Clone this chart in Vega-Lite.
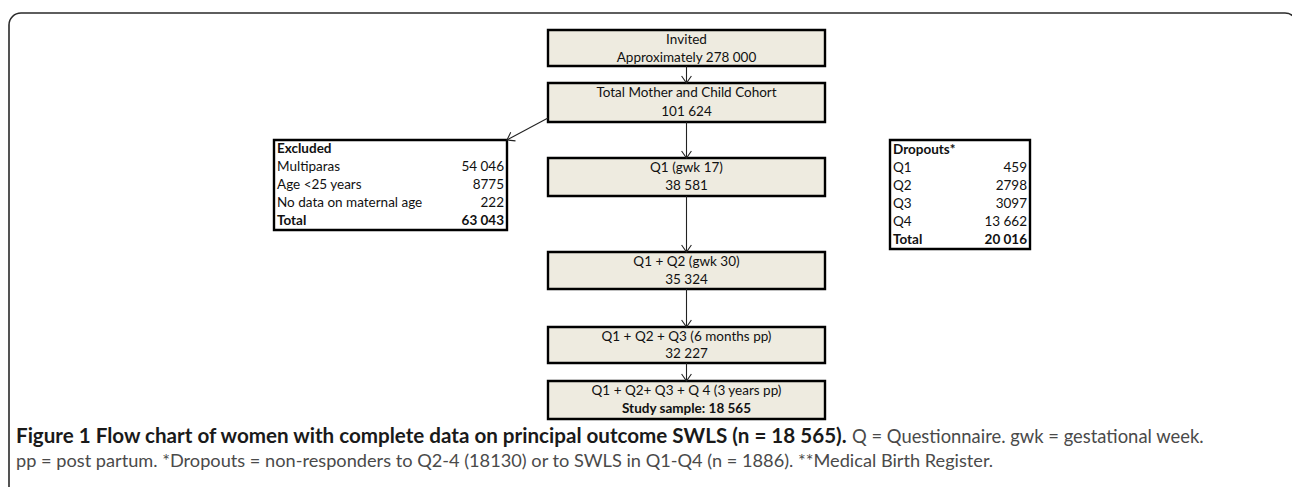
{
  "$schema": "https://vega.github.io/schema/vega-lite/v6.json",
  "width": 1292,
  "height": 487,
  "autosize": {"type": "fit", "contains": "padding"},
  "padding": 0,
  "background": "white",
  "config": {"view": {"stroke": null}},
  "datasets": {
    "frame": [{"x1": 9, "x2": 1297, "y1": 13, "y2": 530}],
    "boxes": [
      {"name": "Invited", "x1": 548, "x2": 825, "y1": 30, "y2": 66},
      {"name": "Cohort", "x1": 548, "x2": 825, "y1": 83, "y2": 122},
      {"name": "Q1", "x1": 548, "x2": 825, "y1": 158, "y2": 196},
      {"name": "Q1Q2", "x1": 548, "x2": 825, "y1": 252, "y2": 289},
      {"name": "Q1Q2Q3", "x1": 548, "x2": 825, "y1": 327, "y2": 363},
      {"name": "Q1Q2Q3Q4", "x1": 548, "x2": 825, "y1": 381, "y2": 419}
    ],
    "tables": [
      {"name": "Excluded", "x1": 274, "x2": 507, "y1": 140, "y2": 230},
      {"name": "Dropouts", "x1": 890, "x2": 1030, "y1": 140, "y2": 249}
    ],
    "arrows": [
      {"x1": 686.5, "y1": 66, "x2": 686.5, "y2": 83, "angle": 0},
      {"x1": 686.5, "y1": 122, "x2": 686.5, "y2": 158, "angle": 0},
      {"x1": 686.5, "y1": 196, "x2": 686.5, "y2": 252, "angle": 0},
      {"x1": 686.5, "y1": 289, "x2": 686.5, "y2": 327, "angle": 0},
      {"x1": 686.5, "y1": 363, "x2": 686.5, "y2": 381, "angle": 0},
      {"x1": 548, "y1": 118, "x2": 507, "y2": 140, "angle": 61}
    ],
    "flowText": [
      {"t": "Invited", "x": 686.5, "y": 40, "emph": false},
      {"t": "Approximately 278 000", "x": 686.5, "y": 58, "emph": false},
      {"t": "Total Mother and Child Cohort", "x": 686.5, "y": 93, "emph": false},
      {"t": "101 624", "x": 686.5, "y": 112, "emph": false},
      {"t": "Q1 (gwk 17)", "x": 686.5, "y": 168, "emph": false},
      {"t": "38 581", "x": 686.5, "y": 186, "emph": false},
      {"t": "Q1 + Q2 (gwk 30)", "x": 686.5, "y": 262, "emph": false},
      {"t": "35 324", "x": 686.5, "y": 280, "emph": false},
      {"t": "Q1 + Q2 + Q3 (6 months pp)", "x": 686.5, "y": 337, "emph": false},
      {"t": "32 227", "x": 686.5, "y": 354, "emph": false},
      {"t": "Q1 + Q2+ Q3 + Q 4 (3 years pp)", "x": 686.5, "y": 391, "emph": false},
      {"t": "Study sample: 18 565", "x": 686.5, "y": 409, "emph": true}
    ],
    "tableText": [
      {"label": "Excluded", "value": "", "xl": 277, "xr": 504, "y": 149, "emph": true},
      {"label": "Multiparas", "value": "54 046", "xl": 277, "xr": 504, "y": 167, "emph": false},
      {"label": "Age <25 years", "value": "8775", "xl": 277, "xr": 504, "y": 185, "emph": false},
      {"label": "No data on maternal age", "value": "222", "xl": 277, "xr": 504, "y": 203, "emph": false},
      {"label": "Total", "value": "63 043", "xl": 277, "xr": 504, "y": 221, "emph": true},
      {"label": "Dropouts*", "value": "", "xl": 893, "xr": 1027, "y": 150, "emph": true},
      {"label": "Q1", "value": "459", "xl": 893, "xr": 1027, "y": 168, "emph": false},
      {"label": "Q2", "value": "2798", "xl": 893, "xr": 1027, "y": 186, "emph": false},
      {"label": "Q3", "value": "3097", "xl": 893, "xr": 1027, "y": 204, "emph": false},
      {"label": "Q4", "value": "13 662", "xl": 893, "xr": 1027, "y": 222, "emph": false},
      {"label": "Total", "value": "20 016", "xl": 893, "xr": 1027, "y": 240, "emph": true}
    ],
    "caption": [
      {"t": "Figure 1 Flow chart of women with complete data on principal outcome SWLS (n = 18 565).", "x": 16, "y": 437, "part": "title"},
      {"t": "Q = Questionnaire. gwk = gestational week.", "x": 852, "y": 437, "part": "tail"},
      {"t": "pp = post partum. *Dropouts = non-responders to Q2-4 (18130) or to SWLS in Q1-Q4 (n = 1886). **Medical Birth Register.", "x": 16, "y": 462, "part": "body"}
    ]
  },
  "layer": [
    {
      "data": {"name": "frame"},
      "mark": {"type": "rect", "fill": null, "stroke": "#2a2a2a", "strokeWidth": 1.6, "cornerRadius": 12, "clip": true},
      "encoding": {
        "x": {"field": "x1", "type": "quantitative", "scale": {"domain": [0, 1292], "nice": false, "zero": false}, "axis": null},
        "x2": {"field": "x2"},
        "y": {"field": "y1", "type": "quantitative", "scale": {"domain": [0, 487], "nice": false, "zero": false, "reverse": true}, "axis": null},
        "y2": {"field": "y2"}
      }
    },
    {
      "data": {"name": "boxes"},
      "mark": {"type": "rect", "fill": "#EEEBE0", "stroke": "#000000", "strokeWidth": 2.4},
      "encoding": {
        "x": {"field": "x1", "type": "quantitative", "axis": null},
        "x2": {"field": "x2"},
        "y": {"field": "y1", "type": "quantitative", "axis": null},
        "y2": {"field": "y2"}
      }
    },
    {
      "data": {"name": "tables"},
      "mark": {"type": "rect", "fill": "#ffffff", "stroke": "#000000", "strokeWidth": 2.4},
      "encoding": {
        "x": {"field": "x1", "type": "quantitative", "axis": null},
        "x2": {"field": "x2"},
        "y": {"field": "y1", "type": "quantitative", "axis": null},
        "y2": {"field": "y2"}
      }
    },
    {
      "data": {"name": "arrows"},
      "mark": {"type": "rule", "stroke": "#222222", "strokeWidth": 1.1},
      "encoding": {
        "x": {"field": "x1", "type": "quantitative", "axis": null},
        "x2": {"field": "x2"},
        "y": {"field": "y1", "type": "quantitative", "axis": null},
        "y2": {"field": "y2"}
      }
    },
    {
      "data": {"name": "arrows"},
      "mark": {"type": "point", "shape": "M-0.7,-1L0,0L0.7,-1", "filled": false, "stroke": "#222222", "strokeWidth": 1.1, "size": 196, "opacity": 1},
      "encoding": {
        "x": {"field": "x2", "type": "quantitative", "axis": null},
        "y": {"field": "y2", "type": "quantitative", "axis": null},
        "angle": {"field": "angle", "type": "quantitative", "scale": null}
      }
    },
    {
      "data": {"name": "flowText"},
      "transform": [{"filter": "!datum.emph"}],
      "mark": {"type": "text", "align": "center", "baseline": "middle", "font": "Lato", "fontSize": 13.5, "color": "#111111"},
      "encoding": {
        "x": {"field": "x", "type": "quantitative", "axis": null},
        "y": {"field": "y", "type": "quantitative", "axis": null},
        "text": {"field": "t"}
      }
    },
    {
      "data": {"name": "flowText"},
      "transform": [{"filter": "datum.emph"}],
      "mark": {"type": "text", "align": "center", "baseline": "middle", "font": "Lato", "fontSize": 13.5, "fontWeight": "bold", "color": "#111111"},
      "encoding": {
        "x": {"field": "x", "type": "quantitative", "axis": null},
        "y": {"field": "y", "type": "quantitative", "axis": null},
        "text": {"field": "t"}
      }
    },
    {
      "data": {"name": "tableText"},
      "transform": [{"filter": "!datum.emph"}],
      "mark": {"type": "text", "align": "left", "baseline": "middle", "font": "Lato", "fontSize": 13.5, "color": "#111111"},
      "encoding": {
        "x": {"field": "xl", "type": "quantitative", "axis": null},
        "y": {"field": "y", "type": "quantitative", "axis": null},
        "text": {"field": "label"}
      }
    },
    {
      "data": {"name": "tableText"},
      "transform": [{"filter": "!datum.emph"}],
      "mark": {"type": "text", "align": "right", "baseline": "middle", "font": "Lato", "fontSize": 13.5, "color": "#111111"},
      "encoding": {
        "x": {"field": "xr", "type": "quantitative", "axis": null},
        "y": {"field": "y", "type": "quantitative", "axis": null},
        "text": {"field": "value"}
      }
    },
    {
      "data": {"name": "tableText"},
      "transform": [{"filter": "datum.emph"}],
      "mark": {"type": "text", "align": "left", "baseline": "middle", "font": "Lato", "fontSize": 13.5, "fontWeight": "bold", "color": "#111111"},
      "encoding": {
        "x": {"field": "xl", "type": "quantitative", "axis": null},
        "y": {"field": "y", "type": "quantitative", "axis": null},
        "text": {"field": "label"}
      }
    },
    {
      "data": {"name": "tableText"},
      "transform": [{"filter": "datum.emph"}],
      "mark": {"type": "text", "align": "right", "baseline": "middle", "font": "Lato", "fontSize": 13.5, "fontWeight": "bold", "color": "#111111"},
      "encoding": {
        "x": {"field": "xr", "type": "quantitative", "axis": null},
        "y": {"field": "y", "type": "quantitative", "axis": null},
        "text": {"field": "value"}
      }
    },
    {
      "data": {"name": "caption"},
      "transform": [{"filter": "datum.part === 'title'"}],
      "mark": {"type": "text", "align": "left", "baseline": "middle", "font": "Lato", "fontSize": 20.6, "fontWeight": "bold", "color": "#1a1a1a"},
      "encoding": {
        "x": {"field": "x", "type": "quantitative", "axis": null},
        "y": {"field": "y", "type": "quantitative", "axis": null},
        "text": {"field": "t"}
      }
    },
    {
      "data": {"name": "caption"},
      "transform": [{"filter": "datum.part === 'tail'"}],
      "mark": {"type": "text", "align": "left", "baseline": "middle", "font": "Lato", "fontSize": 18.4, "color": "#4a4a4a"},
      "encoding": {
        "x": {"field": "x", "type": "quantitative", "axis": null},
        "y": {"field": "y", "type": "quantitative", "axis": null},
        "text": {"field": "t"}
      }
    },
    {
      "data": {"name": "caption"},
      "transform": [{"filter": "datum.part === 'body'"}],
      "mark": {"type": "text", "align": "left", "baseline": "middle", "font": "Lato", "fontSize": 18.2, "color": "#4a4a4a"},
      "encoding": {
        "x": {"field": "x", "type": "quantitative", "axis": null},
        "y": {"field": "y", "type": "quantitative", "axis": null},
        "text": {"field": "t"}
      }
    }
  ]
}
